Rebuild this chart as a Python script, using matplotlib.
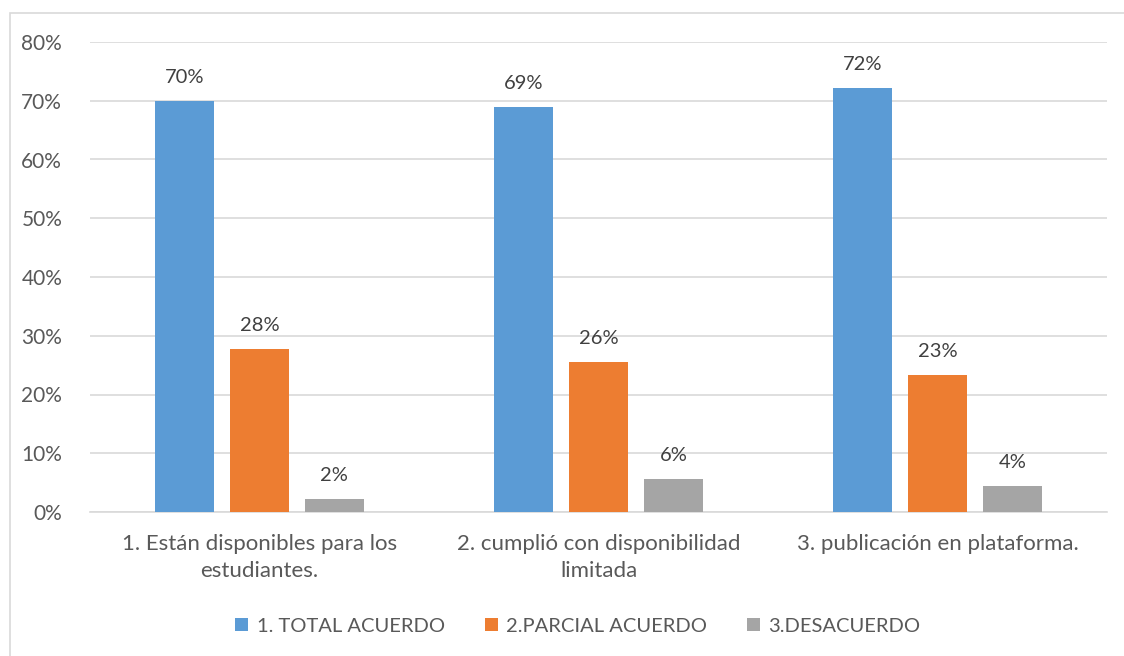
import matplotlib.pyplot as plt
from matplotlib.patches import Rectangle
import numpy as np

categorias = ["1. Están disponibles para los\nestudiantes.",
              "2. cumplió con disponibilidad\nlimitada",
              "3. publicación en plataforma."]
series = ["1. TOTAL ACUERDO", "2.PARCIAL ACUERDO", "3.DESACUERDO"]
total = [0.700, 0.690, 0.722]
parcial = [0.278, 0.256, 0.233]
desacuerdo = [0.022, 0.056, 0.044]
colores = ["#5B9BD5", "#ED7D31", "#A5A5A5"]

plt.rcParams['font.family'] = ['Lato', 'DejaVu Sans']
texto = "#595959"

fig = plt.figure(figsize=(11.24, 6.56), dpi=100)
ax = fig.add_axes([90/1124, 1-512/656, (1107-90)/1124, (512-42)/656])

# borde del gráfico
fig.patches.append(Rectangle((10/1124, -0.1), 1.2, 1 - 13/656 + 0.1,
                             transform=fig.transFigure, fill=False,
                             edgecolor="#D9D9D9", linewidth=1.2))

x = np.arange(len(categorias))
ancho = 0.174
paso = 0.221
for i, (nombre, vals) in enumerate(zip(series, [total, parcial, desacuerdo])):
    pos = x + (i - 1) * paso
    barras = ax.bar(pos, vals, ancho, color=colores[i], label=nombre, zorder=3)
    for b, v in zip(barras, vals):
        ax.text(b.get_x() + b.get_width()/2, v + 0.025, "{:.0%}".format(v),
                ha="center", va="bottom", fontsize=14.5, color="#404040")

ax.set_xlim(-0.5, 2.5)
ax.set_ylim(0, 0.8)
ax.set_yticks(np.arange(0, 0.81, 0.1))
ax.set_yticklabels(["{:.0%}".format(t) for t in np.arange(0, 0.81, 0.1)],
                   fontsize=15, color=texto)
ax.set_xticks(x)
ax.set_xticklabels(categorias, fontsize=16, color=texto, linespacing=1.45)
ax.tick_params(length=0)
ax.tick_params(axis='x', pad=16)
ax.tick_params(axis='y', pad=20)
ax.grid(axis='y', color="#D9D9D9", linewidth=1.2, zorder=0)
for s in ["top", "right", "left"]:
    ax.spines[s].set_visible(False)
ax.spines["bottom"].set_color("#D9D9D9")
ax.spines["bottom"].set_linewidth(1.2)

fig.legend(loc="center", bbox_to_anchor=(578/1124, 1-626/656), ncol=3,
           frameon=False, fontsize=14.5, handlelength=0.65, handleheight=0.65,
           columnspacing=2.0, handletextpad=0.4, labelcolor=texto)

fig.savefig("out.png", dpi=100)
